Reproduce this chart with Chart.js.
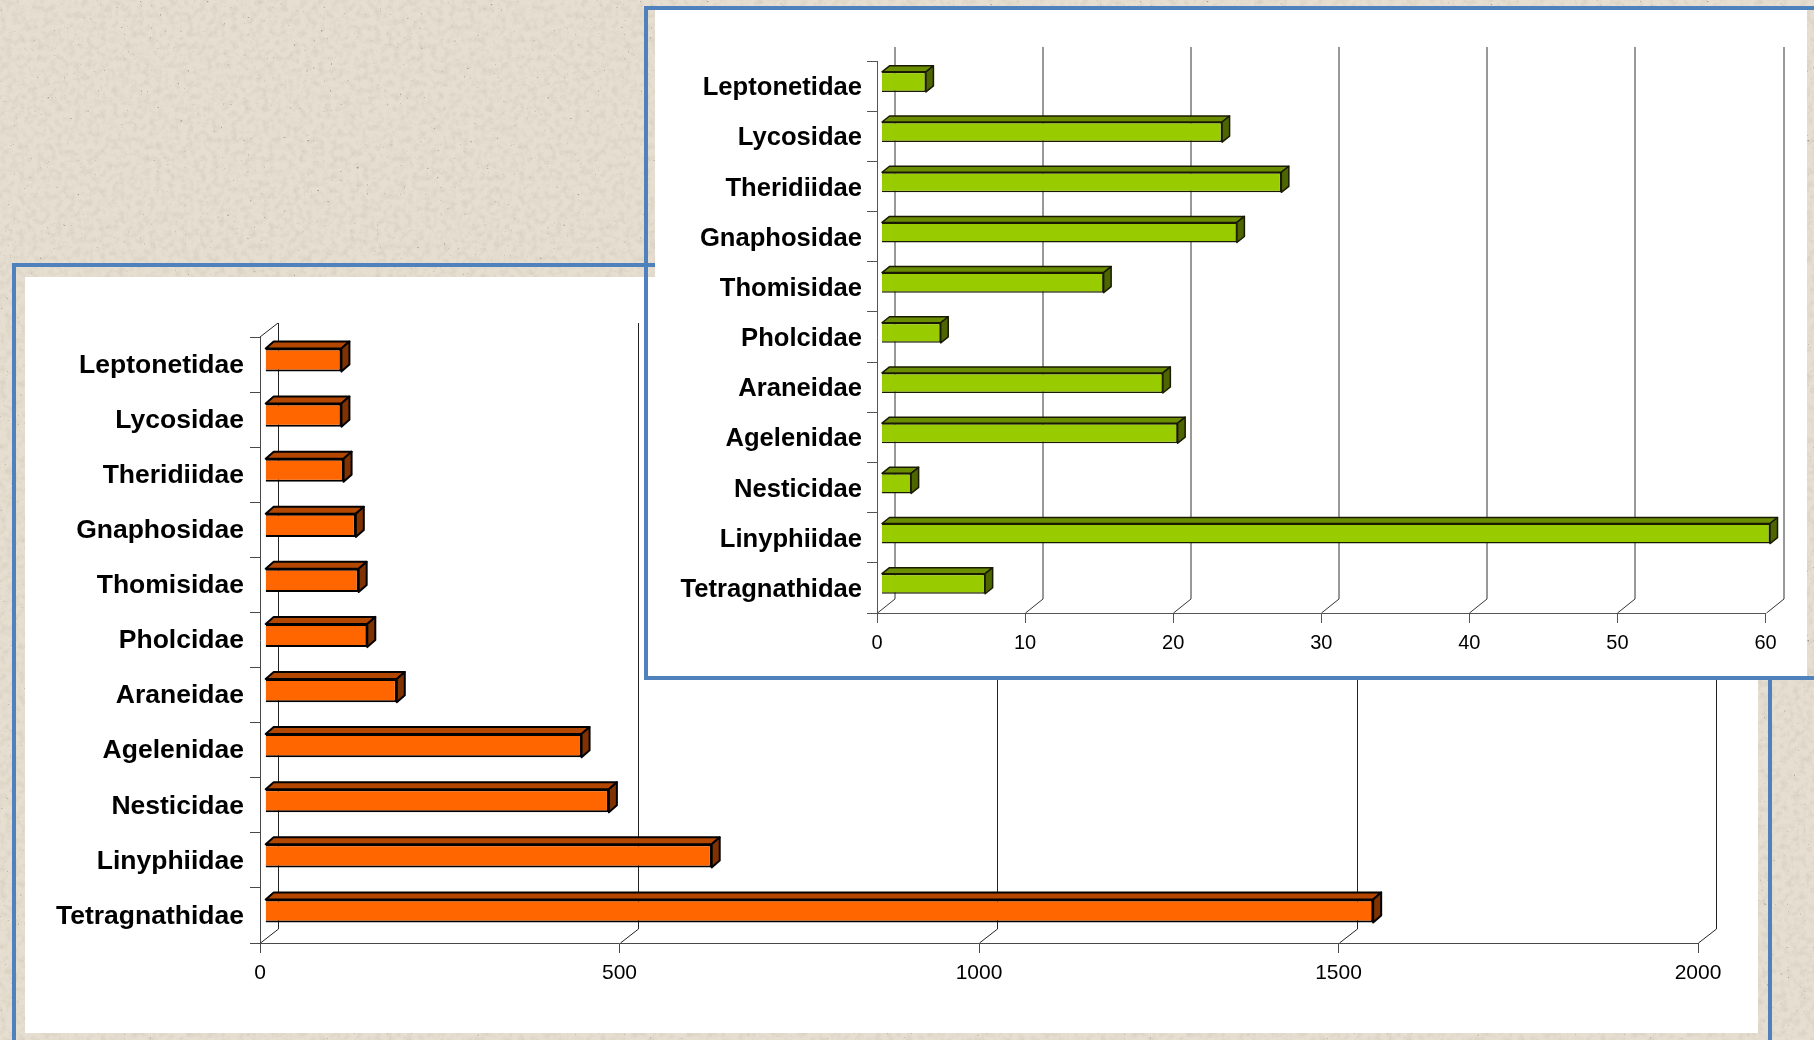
<!DOCTYPE html>
<html>
<head>
<meta charset="utf-8">
<title>Spider families</title>
<script src="https://cdn.jsdelivr.net/npm/chart.js@4/dist/chart.umd.min.js"></script>
<style>
html, body { margin: 0; padding: 0; width: 1814px; height: 1040px; overflow: hidden; }
body {
    position: relative;
    background-color: #e6dfd1;
    background-image: url("data:image/svg+xml,%3Csvg xmlns='http://www.w3.org/2000/svg' width='500' height='500'%3E%3Cfilter id='n'%3E%3CfeTurbulence type='fractalNoise' baseFrequency='.16' numOctaves='3' seed='7'/%3E%3CfeColorMatrix values='0 0 0 0 .55 0 0 0 0 .5 0 0 0 0 .42 0 0 0 .8 -.32'/%3E%3C/filter%3E%3Cfilter id='s'%3E%3CfeTurbulence type='fractalNoise' baseFrequency='.3' numOctaves='2' seed='21'/%3E%3CfeColorMatrix values='0 0 0 0 .35 0 0 0 0 .32 0 0 0 0 .27 0 0 0 7 -5.3'/%3E%3C/filter%3E%3Crect width='500' height='500' filter='url(%23n)'/%3E%3Crect width='500' height='500' filter='url(%23s)'/%3E%3C/svg%3E");
}
.frame { position: absolute; border: 4px solid #4f81bd; box-sizing: border-box; }
canvas { position: absolute; background: #fff; }
#frameOrange { left: 12px; top: 263px; width: 1760px; height: 800px; }
#frameGreen { left: 644px; top: 6px; width: 1200px; height: 674px; }
</style>
</head>
<body>
<div class="frame" id="frameOrange"></div>
<canvas id="chartOrange" style="left:25px;top:277px"></canvas>
<canvas id="chartGreen" style="left:655px;top:10px"></canvas>
<div class="frame" id="frameGreen"></div>

<script>
const familias = ['Leptonetidae', 'Lycosidae', 'Theridiidae', 'Gnaphosidae', 'Thomisidae', 'Pholcidae',
    'Araneidae', 'Agelenidae', 'Nesticidae', 'Linyphiidae', 'Tetragnathidae'];
const valoresNaranja = [106, 106, 109, 126, 130, 142, 183, 440, 478, 621, 1541];
const valoresVerde = [3, 23, 27, 24, 15, 4, 19, 20, 2, 60, 7];
const ticksNaranja = [0, 500, 1000, 1500, 2000];
const ticksVerde = [0, 10, 20, 30, 40, 50, 60];

// fake 3D look: back wall lines and bar faces, all taken from the chart's own scales
const efecto3d = {
    id: 'efecto3d',
    beforeDatasetsDraw(chart, args, o) {
        const ctx = chart.ctx;
        const a = chart.chartArea;
        ctx.save();
        ctx.strokeStyle = o.lineColor;
        ctx.lineWidth = 1;
        chart.scales.x.ticks.forEach((t, i) => {
            const x = Math.round(chart.scales.x.getPixelForTick(i)) + 0.5;
            ctx.beginPath();
            ctx.moveTo(x, a.bottom);
            ctx.lineTo(x + o.wallX, a.bottom - o.wallY);
            ctx.lineTo(x + o.wallX, a.top - o.wallY);
            ctx.stroke();
        });
        if (o.topDiagonal) {
            ctx.beginPath();
            ctx.moveTo(a.left, a.top);
            ctx.lineTo(a.left + o.wallX, a.top - o.wallY);
            ctx.stroke();
        }
        ctx.restore();
        ctx.save();
        ctx.translate(o.frontX, -o.frontY);
    },
    afterDatasetsDraw(chart, args, o) {
        const ctx = chart.ctx;
        chart.getDatasetMeta(0).data.forEach(bar => {
            const top = bar.y - bar.height / 2;
            const bottom = bar.y + bar.height / 2;
            ctx.lineWidth = o.edge;
            ctx.strokeStyle = o.edgeColor;
            ctx.lineJoin = 'round';
            ctx.fillStyle = o.topColor;
            ctx.beginPath();
            ctx.moveTo(bar.base, top);
            ctx.lineTo(bar.base + o.barX, top - o.barY);
            ctx.lineTo(bar.x + o.barX, top - o.barY);
            ctx.lineTo(bar.x, top);
            ctx.closePath();
            ctx.fill();
            ctx.stroke();
            ctx.fillStyle = o.sideColor;
            ctx.beginPath();
            ctx.moveTo(bar.x, top);
            ctx.lineTo(bar.x + o.barX, top - o.barY);
            ctx.lineTo(bar.x + o.barX, bottom - o.barY);
            ctx.lineTo(bar.x, bottom);
            ctx.closePath();
            ctx.fill();
            ctx.stroke();
        });
        ctx.restore();
    }
};

function crearGrafica(id, valores, ticksX, c) {
    const canvas = document.getElementById(id);
    canvas.width = c.width;
    canvas.height = c.height;
    return new Chart(canvas, {
        type: 'bar',
        data: {
            labels: familias,
            datasets: [{
                data: valores,
                backgroundColor: c.color,
                borderColor: c.edgeColor,
                borderWidth: c.edge,
                barPercentage: c.barPct,
                categoryPercentage: 1,
                clip: false
            }]
        },
        plugins: [efecto3d],
        options: {
            indexAxis: 'y',
            responsive: false,
            animation: false,
            layout: { padding: { top: c.top, right: c.right, left: 0, bottom: 0 } },
            plugins: {
                legend: { display: false },
                tooltip: { enabled: false },
                efecto3d: {
                    lineColor: c.lineColor, wallX: c.wallX, wallY: c.wallY, topDiagonal: c.topDiagonal,
                    frontX: c.frontX, frontY: c.frontY, barX: c.barX, barY: c.barY,
                    edge: c.edge, edgeColor: c.edgeColor, topColor: c.topColor, sideColor: c.sideColor
                }
            },
            scales: {
                x: {
                    min: 0,
                    max: ticksX[ticksX.length - 1],
                    afterFit: s => { s.height = c.axisHeight; },
                    afterBuildTicks: s => { s.ticks = ticksX.map(v => ({ value: v })); },
                    grid: { drawOnChartArea: false, drawTicks: true, tickLength: 10, color: c.axisColor },
                    border: { color: c.axisColor },
                    ticks: {
                        autoSkip: false, maxRotation: 0, padding: c.xPadding, color: '#000',
                        font: { family: 'Liberation Sans', size: c.xFont },
                        callback: v => String(v)
                    }
                },
                y: {
                    afterFit: s => { s.width = c.labelWidth; },
                    grid: { drawOnChartArea: false, drawTicks: true, tickLength: 10, offset: true, color: c.axisColor },
                    border: { color: c.axisColor },
                    ticks: {
                        autoSkip: false, padding: c.yPadding, color: '#000', labelOffset: c.labelOffset,
                        font: { family: 'Liberation Sans', size: c.yFont, weight: 'bold' }
                    }
                }
            }
        }
    });
}

crearGrafica('chartOrange', valoresNaranja, ticksNaranja, {
    width: 1733, height: 756, top: 60, right: 60, labelWidth: 235, axisHeight: 90,
    color: '#ff6600', topColor: '#b34700', sideColor: '#803300', edgeColor: '#000', edge: 2,
    lineColor: '#222', axisColor: '#484848', barPct: 0.42, wallX: 18, wallY: 14, topDiagonal: true,
    frontX: 5.2, frontY: 4.5, barX: 8, barY: 7, xFont: 21, yFont: 26.5, xPadding: 8, yPadding: 6, labelOffset: 1
});

crearGrafica('chartGreen', valoresVerde, ticksVerde, {
    width: 1152, height: 666, top: 51, right: 41.5, labelWidth: 222, axisHeight: 63,
    color: '#99cc00', topColor: '#6b8e00', sideColor: '#4d6600', edgeColor: '#1a1a00', edge: 1.5,
    lineColor: '#333', axisColor: '#555', barPct: 0.4, wallX: 17.5, wallY: 14, topDiagonal: false,
    frontX: 4.5, frontY: 4.2, barX: 7.5, barY: 6, xFont: 20, yFont: 25.6, xPadding: 8, yPadding: 5, labelOffset: 2
});
</script>
</body>
</html>
